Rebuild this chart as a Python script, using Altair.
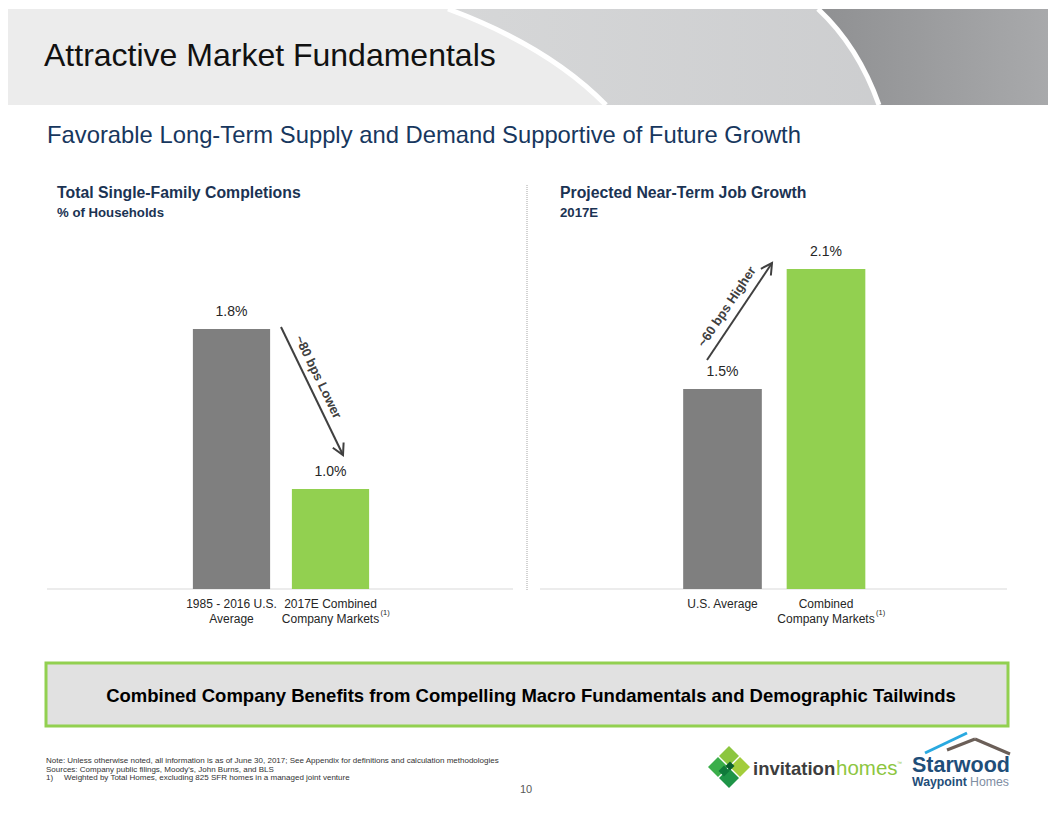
import altair as alt
import pandas as pd

# ---------------- data ----------------
left_categories = ["1985 - 2016 U.S.\nAverage", "2017E Combined\nCompany Markets"]
left_values = [1.8, 1.0]
right_categories = ["U.S. Average", "Combined\nCompany Markets"]
right_values = [1.5, 2.1]
bar_colors = ["#7f7f7f", "#92d050"]
footnote_marks = ["", "(1)"]
y_domain = [0.5, 2.5]

FONT = "Liberation Sans, Arial, sans-serif"
NAVY = "#1b3353"
OX, OY = 8, 8  # page margin offset (reference coords -> chart coords)
ONE = pd.DataFrame({"k": [0]})


def txt(s, x, y, size, color="#000000", weight="normal", align="left",
        baseline="alphabetic", angle=0, font=FONT):
    kw = dict(text=s, fontSize=size, color=color, fontWeight=weight,
              align=align, baseline=baseline, font=font)
    if angle:
        kw["angle"] = angle
    return alt.Chart(ONE).mark_text(**kw).encode(
        x=alt.value(x - OX), y=alt.value(y - OY))


def shape(path, fill=None, stroke=None, sw=0, x=0, y=0, angle=0):
    kw = dict(shape=path, size=4, opacity=1)
    if fill is not None:
        kw.update(filled=True, fill=fill)
    else:
        kw.update(filled=False)
    if stroke is not None:
        kw.update(stroke=stroke, strokeWidth=sw)
    else:
        kw.update(strokeWidth=0)
    if angle:
        kw["angle"] = angle
    return alt.Chart(ONE).mark_point(**kw).encode(
        x=alt.value(x - OX), y=alt.value(y - OY))


def rule(x1, y1, x2, y2, color, sw=1, dash=None):
    kw = dict(color=color, strokeWidth=sw)
    if dash:
        kw["strokeDash"] = dash
    return alt.Chart(ONE).mark_rule(**kw).encode(
        x=alt.value(x1 - OX), y=alt.value(y1 - OY),
        x2=alt.value(x2 - OX), y2=alt.value(y2 - OY))


def grad(c0, c1):
    return alt.LinearGradient(
        gradient="linear", x1=0, x2=1, y1=0, y2=0,
        stops=[alt.GradientStop(offset=0, color=c0),
               alt.GradientStop(offset=1, color=c1)])


# ---------------- header ----------------
header = [
    shape("M0,9 L1056,9 L1056,105 L0,105 Z", fill="#ececec"),
    shape("M448,9 Q548,46 606,105 L1056,105 L1056,9 Z", fill=grad("#d6d7d8", "#c9cacc")),
    shape("M818,9 Q858,46 879,105 L1056,105 L1056,9 Z", fill=grad("#8f9092", "#a9aaac")),
    shape("M448,9 Q548,46 606,105", stroke="#ffffff", sw=5),
    shape("M818,9 Q858,46 879,105", stroke="#ffffff", sw=5),
    txt("Attractive Market Fundamentals", 44, 66, 32, color="#111111"),
    txt("Favorable Long-Term Supply and Demand Supportive of Future Growth",
        47, 143, 23.8, color="#17375e"),
]

# ---------------- panels ----------------
ys = alt.Scale(domain=y_domain, range=[589 - OY, 189 - OY], zero=False)


def panel(cats, vals, rng, pi, po):
    df = pd.DataFrame({"cat": cats, "value": vals, "color": bar_colors,
                       "sup": footnote_marks})
    xs = alt.Scale(domain=cats, range=rng, paddingInner=pi, paddingOuter=po)
    X = alt.X("cat:N", scale=xs, axis=None, sort=None)
    Y = alt.Y("value:Q", scale=ys, axis=None)
    base = alt.Chart(df)
    bars = base.mark_bar().encode(
        x=X, y=Y, y2=alt.datum(y_domain[0]),
        color=alt.Color("color:N", scale=None))
    vlab = base.transform_calculate(
        lbl="format(datum.value, '.1f') + '%'"
    ).mark_text(baseline="bottom", dy=-10, fontSize=14, font=FONT,
                color="#262626").encode(x=X, y=Y, text="lbl:N")
    clab = base.mark_text(baseline="top", lineBreak="\n", fontSize=12,
                          lineHeight=15, font=FONT, color="#262626").encode(
        x=X, y=alt.value(599 - OY), text="cat:N")
    sup = base.mark_text(align="left", baseline="middle", dx=50, fontSize=7.5,
                         font=FONT, color="#262626").encode(
        x=X, y=alt.value(613 - OY), text="sup:N")
    return alt.layer(bars, vlab, clab, sup)


left = panel(left_categories, left_values, [174, 372], 0.22, 0.11)
right = panel(right_categories, right_values, [662.75, 869.75], 0.24, 0.12)

ARROW = "M-11,-6 L0,0 L-11,6"
panel_deco = [
    txt("Total Single-Family Completions", 57, 198, 15.8, color=NAVY, weight="bold"),
    txt("% of Households", 57, 217, 13.2, color=NAVY, weight="bold"),
    txt("Projected Near-Term Job Growth", 560, 198, 15.8, color=NAVY, weight="bold"),
    txt("2017E", 560, 217, 13.2, color=NAVY, weight="bold"),
    rule(527, 185, 527, 590, "#a6a6a6", 1, [1, 1]),
    rule(47, 589, 513, 589, "#d9d9d9", 1),
    rule(540, 589, 1007, 589, "#d9d9d9", 1),
    # arrows
    rule(281, 327, 343, 455, "#404040", 2),
    shape(ARROW, stroke="#404040", sw=2, x=343, y=455, angle=64.2),
    txt("~80 bps Lower", 318, 377, 13, color="#404040", weight="bold",
        align="center", baseline="middle", angle=64.2),
    rule(707, 360, 772, 263, "#404040", 2),
    shape(ARROW, stroke="#404040", sw=2, x=772, y=263, angle=303.8),
    txt("~60 bps Higher", 727, 307, 13, color="#404040", weight="bold",
        align="center", baseline="middle", angle=303.8),
]

# ---------------- footer ----------------
box = alt.Chart(ONE).mark_rect(fill="#e1e1e1", stroke="#92d050",
                               strokeWidth=3).encode(
    x=alt.value(46 - OX), x2=alt.value(1008 - OX),
    y=alt.value(663 - OY), y2=alt.value(726 - OY))

footer = [
    box,
    txt("Combined Company Benefits from Compelling Macro Fundamentals and Demographic Tailwinds",
        531, 696, 18.5, weight="bold", align="center", baseline="middle"),
    txt("Note: Unless otherwise noted, all information is as of June 30, 2017; See Appendix  for definitions and calculation methodologies",
        46, 763, 8, color="#333333"),
    txt("Sources: Company  public  filings, Moody's, John Burns, and BLS",
        46, 771.5, 8, color="#333333"),
    txt("1)", 46, 780, 8, color="#333333"),
    txt("Weighted  by Total Homes, excluding  825 SFR homes in a managed  joint  venture",
        64, 780, 8, color="#333333"),
    txt("10", 526, 790, 11, color="#595959", align="center", baseline="middle"),
]


# logos
def diamond(x, y, w, color):
    return alt.Chart(ONE).mark_point(shape="diamond", size=w * w, filled=True,
                                     color=color, opacity=1).encode(
        x=alt.value(x - OX), y=alt.value(y - OY))


logos = [
    diamond(729, 756, 20, "#8cc63f"),
    diamond(740, 767, 20, "#a3cd3b"),
    diamond(718, 767, 20, "#3aae4a"),
    diamond(729, 778, 20, "#1e9447"),
    diamond(724, 771, 11, "#0f7a3a"),
    diamond(730, 766, 9, "#0b5e2e"),
    txt("invitation", 753, 775, 18.5, color="#3d3d3d", weight="bold"),
    txt("homes", 836, 775, 20.5, color="#8dc63f"),
    txt("™", 897, 765, 5, color="#8dc63f"),
    rule(925, 753, 967, 733, "#29a9e0", 3),
    rule(947, 750, 975, 739, "#6b5f58", 3),
    rule(975, 739, 1010, 754, "#6b5f58", 3),
    txt("Starwood", 912, 772, 21.5, color="#1f4e79", weight="bold"),
    txt("Waypoint", 912, 786, 12.3, color="#1f4e79", weight="bold"),
    txt("Homes", 970, 786, 12.3, color="#7f8ea3"),
]

chart = alt.layer(
    *header, *panel_deco, left, right, *footer, *logos
).resolve_scale(
    x="independent", y="independent"
).properties(
    width=1040, height=790, padding=0,
    autosize=alt.AutoSizeParams(type="none"),
).configure_view(strokeWidth=0)

chart.save("out.html", embed_options={"renderer": "svg", "actions": False})
